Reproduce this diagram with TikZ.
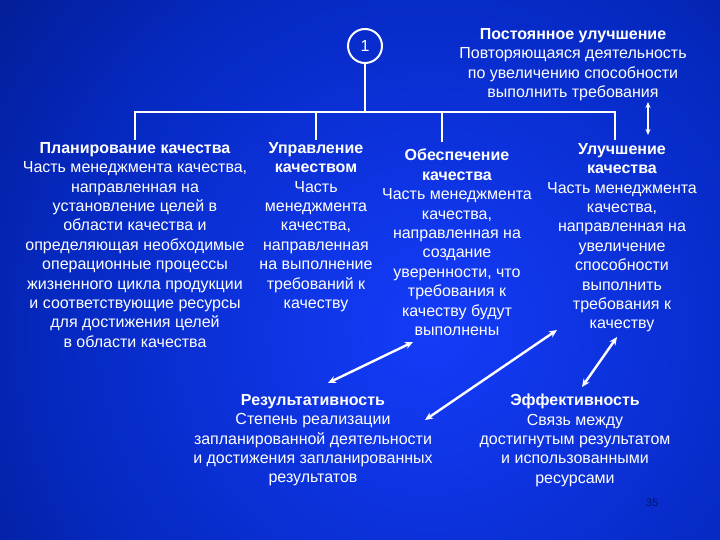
\documentclass[tikz,border=0pt]{standalone}
\usepackage{fontspec}
\setmainfont{Liberation Sans}
\usetikzlibrary{arrows.meta}
\definecolor{bgouter}{RGB}{0,14,90}
\definecolor{bgmid}{RGB}{5,40,190}
\definecolor{bginner}{RGB}{20,60,250}
\definecolor{pagenum}{RGB}{0,20,110}
\pgfdeclareradialshading{bgshade}{\pgfpoint{0bp}{0bp}}{color(0bp)=(bginner); color(12bp)=(bgmid); color(25bp)=(bgouter); color(50bp)=(bgouter)}
\begin{document}
\begin{tikzpicture}[x=1pt,y=-1pt,
  txt/.style={text=white, font=\fontsize{16}{19.4}\selectfont, align=center, inner sep=0pt, anchor=north},
  tree/.style={draw=white, line width=2.4pt, line join=miter},
  dbl/.style={white, line width=2.4pt, {Stealth[length=8pt,width=7pt]}-{Stealth[length=8pt,width=7pt]}},
  thindbl/.style={white, line width=1.6pt, {Stealth[length=6pt,width=5pt]}-{Stealth[length=6pt,width=5pt]}}]
\useasboundingbox (0,0) rectangle (720,540);
\begin{scope}
\clip (0,0) rectangle (720,540);
\fill[bgouter] (0,0) rectangle (720,540);
\shade[shading=bgshade] (430,330) circle (800);
\end{scope}

% circle 1
\node[circle, draw=white, line width=2pt, minimum size=34pt, inner sep=0pt, text=white, font=\fontsize{16}{19}\selectfont] (one) at (365,46) {1};

% tree
\coordinate (j0) at (365,112);
\coordinate (hl) at (135,112);
\coordinate (hr) at (615,112);
\coordinate (d1) at (135,140);
\coordinate (d2) at (316,140);
\coordinate (d3) at (442,142);
\coordinate (d4) at (615,140);
\draw[tree] (one.south) -- (j0);
\draw[tree] (d1) -- (hl) -- (hr) -- (d4);
\draw[tree] (d2) -- (d2 |- hl);
\draw[tree] (d3) -- (d3 |- hl);

% text blocks
\node[txt] (top) at (573,28) {\textbf{Постоянное улучшение}\\Повторяющаяся деятельность\\по увеличению способности\\выполнить требования};

\node[txt] (plan) at (135,142) {\textbf{Планирование качества}\\Часть менеджмента качества,\\направленная на\\установление целей в\\области качества и\\определяющая необходимые\\операционные процессы\\жизненного цикла продукции\\и соответствующие ресурсы\\для достижения целей\\в области качества};

\node[txt] (upr) at (316,142) {\textbf{Управление}\\\textbf{качеством}\\Часть\\менеджмента\\качества,\\направленная\\на выполнение\\требований к\\качеству};

\node[txt] (obes) at (457,149) {\textbf{Обеспечение}\\\textbf{качества}\\Часть менеджмента\\качества,\\направленная на\\создание\\уверенности, что\\требования к\\качеству будут\\выполнены};

\node[txt] (ulu) at (622,143) {\textbf{Улучшение}\\\textbf{качества}\\Часть менеджмента\\качества,\\направленная на\\увеличение\\способности\\выполнить\\требования к\\качеству};

\node[txt] (res) at (313,394) {\textbf{Результативность}\\Степень реализации\\запланированной деятельности\\и достижения запланированных\\результатов};

\node[txt] (eff) at (575,394) {\textbf{Эффективность}\\Связь между\\достигнутым результатом\\и использованными\\ресурсами};

% arrows
\coordinate (a1s) at (328,383);
\coordinate (a1e) at (413,342);
\coordinate (a2s) at (425,420);
\coordinate (a2e) at (557,330);
\coordinate (a3s) at (582,387);
\coordinate (a3e) at (617,337);
\coordinate (a4s) at (648,102);
\coordinate (a4e) at (648,135);
\draw[dbl] (a1s) -- (a1e);
\draw[dbl] (a2s) -- (a2e);
\draw[dbl] (a3s) -- (a3e);
\draw[thindbl] (a4s) -- (a4e);

\node[font=\fontsize{11}{13}\selectfont, text=pagenum, inner sep=0pt] (pg) at (652,503) {35};
\end{tikzpicture}
\end{document}
